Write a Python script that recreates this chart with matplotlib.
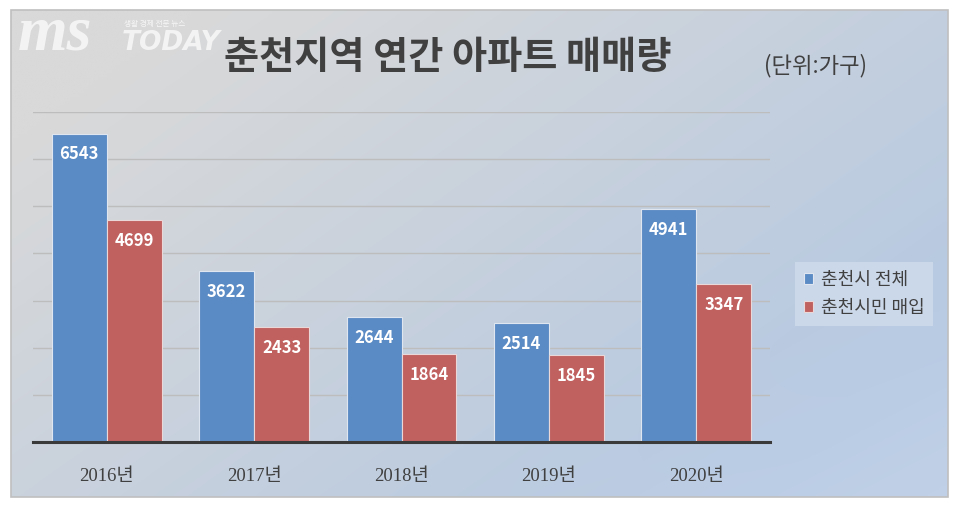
import numpy as np
import matplotlib
matplotlib.use("Agg")
import matplotlib.pyplot as plt
from matplotlib.patches import Rectangle

plt.rcParams['font.family'] = ['Noto Sans CJK KR', 'DejaVu Sans']

years = ["2016년", "2017년", "2018년", "2019년", "2020년"]
total = [6543, 3622, 2644, 2514, 4941]
local = [4699, 2433, 1864, 1845, 3347]
series_names = ["춘천시 전체", "춘천시민 매입"]
title = "춘천지역 연간 아파트 매매량"
unit = "(단위:가구)"

W, H = 960, 511
fig = plt.figure(figsize=(W / 100, H / 100), dpi=100)
fig.patch.set_facecolor("white")

# background gradient panel
bg = fig.add_axes([0, 0, 1, 1], zorder=0)
bg.set_xlim(0, W)
bg.set_ylim(H, 0)
bg.axis("off")
x0, x1, y0, y1 = 11, 948, 10, 497
nx, ny = 200, 120
xx, yy = np.meshgrid(np.linspace(0, 1, nx), np.linspace(0, 1, ny))
t = np.clip(0.75 * xx + 0.55 * yy - 0.15, 0, 1)
c_gray = np.array([217, 217, 217]) / 255
c_blue = np.array([180, 200, 226]) / 255
img = c_gray[None, None, :] * (1 - t[..., None]) + c_blue[None, None, :] * t[..., None]
s = np.clip((xx + yy - 1.5) / 0.5, 0, 1)[..., None]
img = img * (1 - 0.5 * s) + np.array([205, 218, 236])[None, None, :] / 255 * 0.5 * s
bg.imshow(img, extent=[x0, x1, y1, y0], aspect="auto", interpolation="bilinear")
bg.add_patch(Rectangle((x0, y0), x1 - x0, y1 - y0, fill=False, edgecolor="#bfbfbf", lw=1.2))

# logo watermark
bg.text(18, 50, "ms", fontsize=46, family=["Liberation Serif"], weight="bold", style="italic",
        color="white", alpha=0.7, va="baseline", ha="left")
bg.text(122, 50, "TODAY", fontsize=19, family=["DejaVu Sans"], style="italic", weight="bold",
        color="white", alpha=0.7, va="baseline", ha="left")
bg.text(124, 24, "생활 경제 전문 뉴스", fontsize=5.5, color="white", alpha=0.8, va="center", ha="left")

# title and unit
bg.text(448, 58, title, fontsize=27.5, weight="bold", color="#404040", ha="center", va="center")
bg.text(816, 66, unit, fontsize=16, color="#404040", ha="center", va="center")

# main axes
left, right, bottom, top = 33, 770, 442, 112
ax = fig.add_axes([left / W, (H - bottom) / H, (right - left) / W, (bottom - top) / H], zorder=2)
ax.set_facecolor("none")
x = np.arange(len(years))
bw = 0.373
b1 = ax.bar(x - bw / 2, total, bw, color="#5b8bc4", edgecolor="#dfe6f0", lw=0.8,
            label=series_names[0], zorder=3)
b2 = ax.bar(x + bw / 2, local, bw, color="#c0605f", edgecolor="#ead8d8", lw=0.8,
            label=series_names[1], zorder=3)
for bars, vals in ((b1, total), (b2, local)):
    for r, v in zip(bars, vals):
        ax.annotate(str(v), (r.get_x() + r.get_width() / 2, v), xytext=(0, -15),
                    textcoords="offset points", ha="center", va="center",
                    fontsize=12, weight="bold", color="white", zorder=4)

ax.set_xlim(-0.5, len(years) - 0.5)
ax.set_ylim(0, 7000)
ax.set_yticks(np.arange(1000, 7001, 1000))
ax.yaxis.grid(True, color="#bdbdbd", lw=1.0, zorder=1)
ax.set_axisbelow(True)
ax.tick_params(axis="y", left=False, labelleft=False)
ax.tick_params(axis="x", bottom=False, pad=15)
ax.set_xticks(x)
ax.set_xticklabels(years, fontsize=13.5, color="#404040",
                   family=["Liberation Serif", "Noto Sans CJK KR"])
for side in ("top", "right", "left"):
    ax.spines[side].set_visible(False)
ax.spines["bottom"].set_color("#3a3a3a")
ax.spines["bottom"].set_linewidth(2.2)
ax.spines["bottom"].set_zorder(5)

leg = fig.legend(handles=[b1, b2], labels=series_names, loc="center",
                 bbox_to_anchor=(864 / W, (H - 294) / H), frameon=True, fontsize=13,
                 handlelength=0.55, handleheight=0.55, handletextpad=0.4,
                 labelspacing=0.55, borderpad=0.5, fancybox=False)
leg.get_frame().set_facecolor("#cbd8ea")
leg.get_frame().set_edgecolor("none")
leg.get_frame().set_alpha(1)
for txt in leg.get_texts():
    txt.set_color("#404040")

fig.savefig("out.png", dpi=100, facecolor="white")
